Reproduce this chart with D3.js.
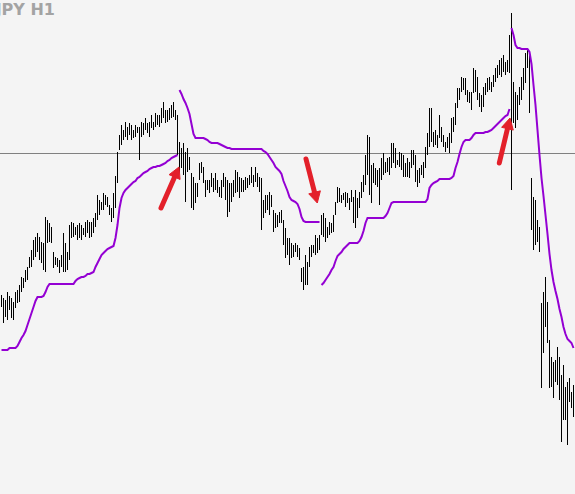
<!DOCTYPE html>
<html>
<head>
<meta charset="utf-8">
<script src="https://cdnjs.cloudflare.com/ajax/libs/d3/7.8.5/d3.min.js"></script>
<style>
    html, body { margin: 0; padding: 0; background: #f4f4f4; overflow: hidden; }
    .chart { width: 575px; height: 494px; }
    .chart__bar { stroke: #000; stroke-width: 1; shape-rendering: crispEdges; }
    .chart__trail { fill: none; stroke: #9400d3; stroke-width: 2; }
    .chart__level { stroke: #808080; stroke-width: 1; shape-rendering: crispEdges; }
    .chart__arrow { stroke: #e3202a; fill: #e3202a; }
    .chart__title { font-family: 'DejaVu Sans', sans-serif; font-weight: bold; font-size: 16px; fill: #a3a3a3; }
</style>
</head>
<body>
<div class="chart"></div>
<script>
// DATA *******************************************************************************
var SYMBOL = 'USDJPY H1';

// bar highs, one per H1 bar
var HIGH = [
    147.05,147.02,147.00,147.08,147.04,147.02,146.98,147.08,147.10,147.15,
    147.23,147.22,147.30,147.33,147.43,147.50,147.60,147.63,147.67,147.63,
    147.58,147.57,147.83,147.80,147.77,147.73,147.48,147.43,147.42,147.40,
    147.45,147.67,147.57,147.48,147.75,147.78,147.77,147.73,147.75,147.77,
    147.75,147.72,147.78,147.80,147.78,147.78,147.82,147.87,148.05,148.00,
    147.98,148.07,148.05,148.03,147.95,147.92,148.07,148.24,148.48,148.65,
    148.75,148.70,148.78,148.73,148.77,148.75,148.70,148.75,148.73,148.73,
    148.78,148.77,148.82,148.77,148.78,148.85,148.78,148.87,148.85,148.85,
    148.92,148.98,148.90,148.90,148.92,148.95,148.98,148.90,148.85,148.58,
    148.52,148.57,148.48,148.52,148.43,148.27,148.23,148.17,148.17,148.37,
    148.38,148.33,148.20,148.20,148.20,148.27,148.22,148.27,148.20,148.13,
    148.20,148.27,148.23,148.20,148.17,148.17,148.20,148.30,148.28,148.23,
    148.22,148.20,148.23,148.22,148.25,148.33,148.25,148.33,148.27,148.23,
    148.22,148.00,148.05,148.05,148.08,148.05,147.90,147.87,147.85,147.88,
    147.90,147.80,147.72,147.62,147.62,147.57,147.55,147.57,147.55,147.52,
    147.32,147.33,147.45,147.38,147.53,147.55,147.55,147.65,147.62,147.65,
    147.85,147.87,147.82,147.73,147.78,147.77,147.85,147.98,148.13,148.12,
    148.05,148.07,148.08,148.07,148.02,148.10,148.03,148.10,148.02,148.08,
    148.18,148.25,148.45,148.65,148.63,148.35,148.37,148.32,148.30,148.32,
    148.42,148.47,148.38,148.42,148.43,148.57,148.57,148.52,148.40,148.48,
    148.47,148.45,148.37,148.42,148.38,148.50,148.50,148.45,148.30,148.32,
    148.35,148.38,148.53,148.67,148.92,148.92,148.68,148.70,148.65,148.85,
    148.73,148.65,148.58,148.63,148.67,148.82,148.83,148.97,149.12,149.12,
    149.23,149.22,149.22,149.10,149.08,149.08,149.32,149.30,149.23,149.07,
    149.05,149.13,149.17,149.22,149.23,149.18,149.25,149.32,149.35,149.40,
    149.42,149.45,149.38,149.40,149.65,149.87,149.18,149.08,149.05,149.13,
    149.23,149.32,149.47,149.50,149.46,148.22,148.03,148.00,147.80,147.73,
    146.97,147.08,147.23,146.98,146.60,146.43,146.38,146.40,146.53,146.43,
    146.25,146.35,146.13,146.18,146.22,146.08,146.15
];

// bar lows
var LOW = [
    146.93,146.77,146.83,146.80,146.90,146.82,146.80,146.92,146.97,146.98,
    147.08,147.12,147.18,147.20,147.32,147.33,147.40,147.43,147.48,147.40,
    147.37,147.30,147.28,147.57,147.58,147.57,147.32,147.35,147.33,147.27,
    147.33,147.28,147.28,147.30,147.40,147.62,147.63,147.65,147.60,147.62,
    147.60,147.65,147.63,147.67,147.62,147.63,147.67,147.73,147.80,147.85,
    147.90,147.90,147.95,147.93,147.85,147.78,147.82,147.92,148.17,148.50,
    148.55,148.60,148.63,148.60,148.65,148.60,148.62,148.63,148.67,148.40,
    148.63,148.65,148.70,148.67,148.63,148.72,148.70,148.73,148.75,148.73,
    148.77,148.82,148.77,148.78,148.80,148.82,148.83,148.80,148.45,148.27,
    148.32,148.25,147.98,148.28,148.30,147.92,147.90,147.97,148.03,148.20,
    148.27,148.17,148.03,148.10,148.07,148.13,148.08,148.10,148.07,148.03,
    148.02,148.13,148.00,147.83,147.88,147.98,148.03,148.07,148.08,148.02,
    148.08,148.08,148.10,148.12,148.15,148.17,148.13,148.18,148.13,148.08,
    147.70,147.82,147.87,147.90,147.85,147.93,147.68,147.72,147.73,147.77,
    147.77,147.55,147.42,147.45,147.35,147.42,147.43,147.48,147.43,147.40,
    147.18,147.10,147.15,147.15,147.33,147.43,147.47,147.45,147.47,147.50,
    147.65,147.63,147.58,147.62,147.65,147.67,147.68,147.85,147.97,147.98,
    147.97,148.00,147.93,147.97,147.90,147.98,147.77,147.72,147.82,147.92,
    148.02,148.08,148.15,148.25,148.05,147.97,148.17,148.15,148.13,147.95,
    148.20,148.25,148.27,148.28,148.25,148.32,148.37,148.32,148.35,148.33,
    148.30,148.23,148.23,148.23,148.22,148.32,148.35,148.18,148.13,148.17,
    148.25,148.22,148.32,148.45,148.53,148.58,148.53,148.55,148.52,148.62,
    148.58,148.53,148.48,148.52,148.47,148.57,148.68,148.75,148.92,149.00,
    149.08,149.10,149.05,148.98,148.97,148.90,149.07,149.08,149.00,148.93,
    148.88,148.93,149.05,149.08,149.10,149.08,149.13,149.18,149.22,149.25,
    149.23,149.28,149.25,149.28,149.27,148.10,148.77,148.72,148.80,148.95,
    149.00,149.10,149.17,149.32,148.87,147.70,147.50,147.55,147.58,147.48,
    146.12,146.47,146.73,146.57,146.12,146.13,146.02,146.18,146.15,146.00,
    145.58,145.80,145.80,145.55,145.98,145.92,145.83
];

// trailing stop, support legs (below price) and resistance legs (above price)
var SUPPORT_A_START = 0;
var SUPPORT_A = [
    146.50,146.50,146.50,146.50,146.52,146.52,146.52,146.52,
    146.54,146.58,146.62,146.65,146.69,146.75,146.81,146.87,146.93,146.99,
    147.03,147.03,147.03,147.04,147.08,147.13,147.16,
    147.16,147.16,147.16,147.16,147.16,147.16,147.16,147.16,147.16,147.16,147.16,147.16,
    147.19,147.21,147.22,147.23,147.23,147.24,147.26,147.26,147.27,147.28,
    147.33,147.37,147.41,147.45,147.47,147.49,147.51,147.52,147.53,147.54,
    147.62,147.75,147.92,148.02,148.07,148.10,148.12,148.14,148.16,148.18,
    148.19,148.22,148.23,148.25,148.27,148.28,148.29,148.31,148.32,148.33,
    148.33,148.34,148.34,148.35,148.36,148.37,148.39,148.40,148.42,148.43,
    148.44,148.45
];

var RESIST_A_START = 89;
var RESIST_A = [
    149.10,149.06,149.01,148.97,148.92,148.86,148.76,148.66,
    148.62,148.62,148.62,148.62,148.62,
    148.61,148.60,148.58,
    148.57,148.57,148.57,148.57,
    148.56,148.55,148.54,148.53,
    148.52,148.52,
    148.51,148.51,148.51,148.51,148.51,148.51,148.51,148.51,
    148.51,148.51,148.51,148.51,148.51,148.51,148.51,148.51,
    148.49,148.48,148.46,148.43,148.40,148.37,148.33,148.31,148.29,148.26,
    148.19,148.14,148.09,148.03,148.00,147.99,147.98,147.96,147.91,147.83,147.79,
    147.78,147.78,147.78,147.78,147.78,147.78,147.78,147.78
];

var SUPPORT_B_START = 160;
var SUPPORT_B = [
    147.15,147.17,147.20,147.23,147.26,147.30,147.33,147.39,147.44,147.46,
    147.48,147.51,147.53,147.55,
    147.57,147.57,147.57,147.57,147.57,
    147.59,147.63,147.69,147.77,
    147.82,147.82,147.82,147.82,147.82,147.82,147.82,147.82,147.82,
    147.84,147.87,147.92,147.97,
    147.98,147.98,147.98,147.98,147.98,147.98,147.98,147.98,147.98,
    147.98,147.98,147.98,147.98,147.98,147.98,147.98,147.98,
    148.01,148.12,148.15,148.17,148.18,148.19,
    148.21,148.21,148.21,148.21,148.21,148.21,
    148.22,148.24,148.32,148.38,148.46,148.53,148.58,
    148.60,148.60,148.60,
    148.62,148.65,
    148.67,148.67,148.67,148.67,148.67,
    148.68,148.68,
    148.69,148.70,148.72,148.74,148.76,148.78,148.80,148.82,148.84,148.85,148.91
];

var RESIST_B_START = 255;
var RESIST_B = [
    149.72,149.65,149.55,149.52,149.52,149.51,149.51,149.51,149.51,149.48,
    149.36,149.15,148.95,148.70,148.45,148.22,148.04,147.85,147.66,147.46,
    147.30,147.18,147.09,147.01,146.91,146.83,146.73,146.66,146.61,146.59,146.57,146.52
];

// grey horizontal price level
var PRICE_LEVEL = 148.47;

// red signal arrows: [bar, price] of tail and of tip
var ARROWS = [
    { from: [79.75, 147.92], to: [88.75, 148.33] },
    { from: [152.25, 148.41], to: [157.9, 147.97] },
    { from: [248.9, 148.37], to: [254.25, 148.82] }
];

var PRICE_TOP = 150.00, PRICE_BOTTOM = 145.06;

(function() {
    'use strict';

    // MARGIN CONVENTION ********************************************************************
    var chartHolder = d3.select('.chart');
    var width = 575, height = 494;

    var svg = chartHolder.append('svg')
                    .attr('width', width)
                    .attr('height', height)
                    .style('display', 'block');

    svg.append('rect')
        .attr('width', width)
        .attr('height', height)
        .attr('fill', '#f4f4f4');

    // SCALES *********************************************************************************
    var xScale = d3.scaleLinear()
                    .domain([0, HIGH.length - 1])
                    .range([1.5, width - 1.5]);

    var yScale = d3.scaleLinear()
                    .domain([PRICE_TOP, PRICE_BOTTOM])
                    .range([0, height]);

    // PRICE LEVEL LINE
    var levelY = Math.round(yScale(PRICE_LEVEL)) + 0.5;
    svg.append('line')
        .attr('class', 'chart__level')
        .attr('x1', 0)
        .attr('x2', width)
        .attr('y1', levelY)
        .attr('y2', levelY);

    // BARS (high-low lines)
    var bars = HIGH.map(function(h, i) { return { i: i, hi: h, lo: LOW[i] }; });

    svg.append('g')
        .attr('class', 'chart__bars')
        .selectAll('line')
        .data(bars)
        .enter()
        .append('line')
        .attr('class', 'chart__bar')
        .attr('x1', function(d) { return xScale(d.i); })
        .attr('x2', function(d) { return xScale(d.i); })
        .attr('y1', function(d) { return yScale(d.hi); })
        .attr('y2', function(d) { return yScale(d.lo); });

    // TRAILING STOP LINES
    var legs = [
        { start: SUPPORT_A_START, values: SUPPORT_A },
        { start: RESIST_A_START, values: RESIST_A },
        { start: SUPPORT_B_START, values: SUPPORT_B },
        { start: RESIST_B_START, values: RESIST_B }
    ];

    var line = d3.line()
                    .x(function(d) { return xScale(d.i); })
                    .y(function(d) { return yScale(d.v); });

    svg.append('g')
        .attr('class', 'chart__trails')
        .selectAll('path')
        .data(legs.map(function(leg) {
            return leg.values.map(function(v, k) { return { i: leg.start + k, v: v }; });
        }))
        .enter()
        .append('path')
        .attr('class', 'chart__trail')
        .attr('d', line);

    // ARROWS
    var headLen = 11, headHalf = 6;
    var arrowG = svg.append('g').attr('class', 'chart__arrows');

    ARROWS.forEach(function(a) {
        var x0 = xScale(a.from[0]), y0 = yScale(a.from[1]);
        var x1 = xScale(a.to[0]), y1 = yScale(a.to[1]);
        var dx = x1 - x0, dy = y1 - y0;
        var len = Math.sqrt(dx * dx + dy * dy);
        var ux = dx / len, uy = dy / len;
        var bx = x1 - ux * headLen, by = y1 - uy * headLen;

        arrowG.append('line')
            .attr('class', 'chart__arrow')
            .attr('x1', x0).attr('y1', y0)
            .attr('x2', bx + ux * 2).attr('y2', by + uy * 2)
            .attr('stroke-width', 5)
            .attr('stroke-linecap', 'round');

        arrowG.append('path')
            .attr('class', 'chart__arrow')
            .attr('stroke-width', 1)
            .attr('stroke-linejoin', 'round')
            .attr('d', 'M' + x1 + ',' + y1 +
                       'L' + (bx - uy * headHalf) + ',' + (by + ux * headHalf) +
                       'L' + (bx + uy * headHalf) + ',' + (by - ux * headHalf) + 'Z');
    });

    // TITLE
    svg.append('text')
        .attr('class', 'chart__title')
        .attr('x', 55)
        .attr('y', 15)
        .attr('text-anchor', 'end')
        .text(SYMBOL);

}());
</script>
</body>
</html>
